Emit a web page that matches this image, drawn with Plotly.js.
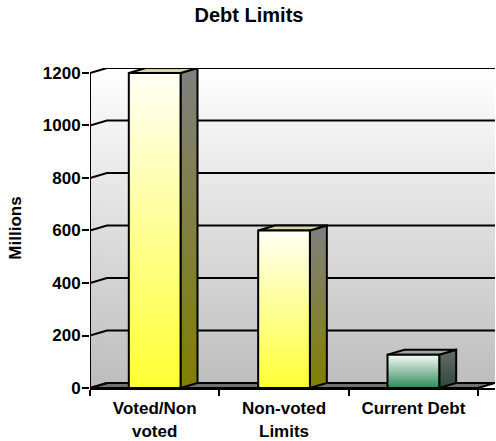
<!DOCTYPE html>
<html>
<head>
<meta charset="utf-8">
<script src="https://cdn.plot.ly/plotly-3.0.1.min.js"></script>
<style>html,body{margin:0;padding:0;background:#fff;}#chart{width:496px;height:441px;}</style>
</head>
<body>
<div id="chart"></div>
<script>
// ---- data ----
const categories = ["Voted/Non<br>voted", "Non-voted<br>Limits", "Current Debt"];
const values = [1200, 600, 127];
const yTicks = [0, 200, 400, 600, 800, 1000, 1200];
const frontColorsTop = ["#fffff6", "#fffff6", "#f8fbf9"];
const frontColorsBottom = ["#ffff33", "#ffff33", "#2e8b57"];
const sideColorsTop = ["#808080", "#808080", "#6a6a6a"];
const sideColorsBottom = ["#808000", "#808000", "#2c4a3a"];
const topColors = ["#d6d6a0", "#d6d6a0", "#9aaaa2"];

// ---- 3D look parameters (pseudo depth) ----
const barWidth = 0.4;
const dx = 0.131;     // depth offset in x units
const dy = 19;        // depth offset in y units
const yMax = yTicks[yTicks.length - 1];
const nCat = categories.length;
const xMax = nCat + dx;

const FONT = "Liberation Sans, Arial, sans-serif";
const traces = [];

function poly(xs, ys, opts) {
  return Object.assign({
    type: "scatter", mode: "lines", x: xs.concat([xs[0]]), y: ys.concat([ys[0]]),
    fill: "toself", hoverinfo: "skip", showlegend: false,
    line: {color: "black", width: 2}
  }, opts);
}

// back wall
traces.push(poly([dx, xMax, xMax, dx], [dy, dy, yMax + dy, yMax + dy], {
  line: {width: 0},
  fillgradient: {type: "vertical", colorscale: [[0, "#bebebe"], [1, "#ffffff"]]}
}));
// left wall
traces.push(poly([0, dx, dx, 0], [0, dy, yMax + dy, yMax], {
  line: {width: 0},
  fillgradient: {type: "vertical", colorscale: [[0, "#bcbcbc"], [1, "#ffffff"]]}
}));
// floor
traces.push(poly([0, nCat, nCat + dx, dx], [0, 0, dy, dy], {
  line: {color: "black", width: 2}, fillcolor: "#707070"
}));
// gridlines (left wall diagonal + back wall)
yTicks.forEach(function (t) {
  traces.push({
    type: "scatter", mode: "lines", x: [0, dx, xMax], y: [t, t + dy, t + dy],
    line: {color: "black", width: 2}, hoverinfo: "skip", showlegend: false
  });
});
// y axis line (front)
traces.push({
  type: "scatter", mode: "lines", x: [0, 0], y: [0, yMax],
  line: {color: "black", width: 2}, hoverinfo: "skip", showlegend: false
});

// bars
values.forEach(function (v, i) {
  const c = i + 0.5;
  const x0 = c - barWidth / 2, x1 = c + barWidth / 2;
  // side face
  traces.push(poly([x1, x1 + dx, x1 + dx, x1], [0, dy, v + dy, v], {
    fillgradient: {type: "vertical", colorscale: [[0, sideColorsBottom[i]], [1, sideColorsTop[i]]]}
  }));
  // top face
  traces.push(poly([x0, x1, x1 + dx, x0 + dx], [v, v, v + dy, v + dy], {
    fillcolor: topColors[i]
  }));
  // front face
  traces.push(poly([x0, x1, x1, x0], [0, 0, v, v], {
    fillgradient: {type: "vertical", colorscale: [[0, frontColorsBottom[i]], [1, frontColorsTop[i]]]}
  }));
});

const layout = {
  width: 496, height: 441,
  margin: {l: 90, r: 1, t: 68, b: 53, pad: 0},
  paper_bgcolor: "#ffffff", plot_bgcolor: "rgba(0,0,0,0)",
  showlegend: false,
  font: {family: FONT, color: "black"},
  title: {
    text: "<b>Debt Limits</b>", font: {family: FONT, size: 20, color: "black"},
    x: 249 / 496, xanchor: "center", xref: "container", y: 1 - 8 / 441, yanchor: "top", yref: "container"
  },
  xaxis: {
    range: [0, xMax], fixedrange: true, showgrid: false, zeroline: false,
    showline: true, linecolor: "black", linewidth: 2,
    tickmode: "array", tickvals: categories.map(function (_, i) { return i + 0.5; }),
    ticktext: categories.map(function (c) { return "<b>" + c + "</b>"; }),
    ticks: "", tickfont: {family: FONT, size: 17, color: "black"},
    ticklabelstandoff: 4,
    minor: {tickmode: "array", tickvals: categories.map(function (_, i) { return i; }).concat([nCat]),
            ticks: "outside", ticklen: 6, tickwidth: 2, tickcolor: "black", showgrid: false}
  },
  yaxis: {
    range: [0, yMax + dy], fixedrange: true, showgrid: false, zeroline: false, showline: false,
    tickmode: "array", tickvals: yTicks, ticktext: yTicks.map(function (t) { return "<b>" + t + "</b>"; }),
    ticks: "outside", ticklen: 7, tickwidth: 2, tickcolor: "black",
    tickfont: {family: FONT, size: 17, color: "black"},
    ticklabelstandoff: -2,
    title: {text: "<b>Millions</b>", font: {family: FONT, size: 17, color: "black"}, standoff: 16}
  }
};

Plotly.newPlot("chart", traces, layout, {displayModeBar: false, staticPlot: true});
</script>
</body>
</html>
